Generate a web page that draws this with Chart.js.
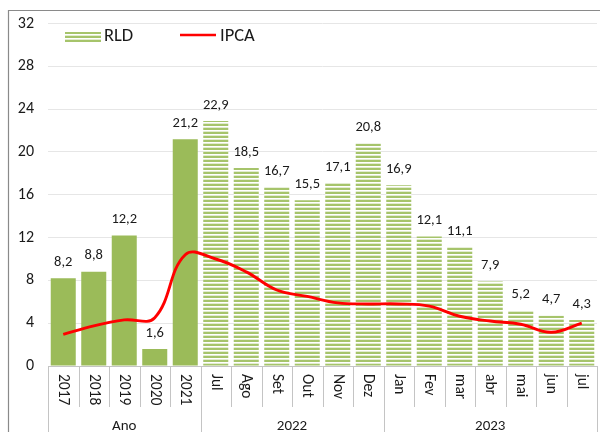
<!DOCTYPE html>
<html><head><meta charset="utf-8">
<script src="https://cdn.jsdelivr.net/npm/chart.js@4/dist/chart.umd.min.js"></script>
<style>html,body{margin:0;padding:0;background:#fff}#c{display:block}</style>
</head><body>
<canvas id="c" width="600" height="432"></canvas>
<script>
const categories = ['2017','2018','2019','2020','2021','Jul','Ago','Set','Out','Nov','Dez','Jan','Fev','mar','abr','mai','jun','jul'];
const rldValues = [8.2, 8.8, 12.2, 1.6, 21.2, 22.9, 18.5, 16.7, 15.5, 17.1, 20.8, 16.9, 12.1, 11.1, 7.9, 5.2, 4.7, 4.3];
const ipcaValues = [2.95, 3.75, 4.31, 4.52, 10.4, 10.0, 8.8, 7.1, 6.5, 5.9, 5.8, 5.8, 5.6, 4.65, 4.2, 3.9, 3.15, 4.0];
const yTicks = [0, 4, 8, 12, 16, 20, 24, 28, 32];
const groupLabels = ['Ano', '2022', '2023'];
const groupSizes = [5, 6, 7];
const solidCount = 5;

const FONT = 'Carlito, Lato, "Liberation Sans", sans-serif';
const GREEN = '#9bbb59';

function makeStripe() {
  const c = document.createElement('canvas');
  c.width = 4; c.height = 4;
  const g = c.getContext('2d');
  g.fillStyle = '#ffffff'; g.fillRect(0,0,4,4);
  g.fillStyle = '#a6c46b'; g.fillRect(0,0,4,2);
  g.fillStyle = '#e2ecd0'; g.fillRect(0,3,4,1);
  return g.createPattern(c, 'repeat');
}
const ctx0 = document.getElementById('c').getContext('2d');
const stripe = makeStripe();
const barColors = rldValues.map((v,i) => i < solidCount ? GREEN : stripe);

const fmt = v => v.toFixed(1).replace('.', ',');

const decor = {
  id: 'decor',
  beforeDraw(chart) {
    const c = chart.ctx;
    c.save();
    c.fillStyle = '#fff'; c.fillRect(0,0,chart.width,chart.height);
    c.strokeStyle = '#8a8a8a'; c.lineWidth = 1.2;
    c.beginPath();
    c.moveTo(8.5, 432); c.lineTo(8.5, 10.5); c.lineTo(600, 10.5);
    c.stroke();
    c.restore();
  },
  afterDatasetsDraw(chart) {
    const c = chart.ctx;
    const xs = chart.scales.x, area = chart.chartArea;
    c.save();
    const meta = chart.getDatasetMeta(0);
    c.fillStyle = '#1a1a1a';
    c.font = '14.5px ' + FONT;
    c.textAlign = 'center'; c.textBaseline = 'middle';
    meta.data.forEach((el, i) => {
      c.fillText(fmt(rldValues[i]), el.x, el.y - 16);
    });
    const y0 = area.bottom;
    c.strokeStyle = '#c4c4c4'; c.lineWidth = 1;
    c.beginPath(); c.moveTo(area.left, Math.round(y0)+0.5); c.lineTo(area.right, Math.round(y0)+0.5); c.stroke();
    const step = (area.right - area.left) / categories.length;
    const groupEdges = [0];
    groupSizes.reduce((a, s) => { groupEdges.push(a + s); return a + s; }, 0);
    for (let i = 0; i <= categories.length; i++) {
      const x = Math.round(area.left + i * step) + 0.5;
      const isGroup = groupEdges.includes(i);
      c.beginPath(); c.moveTo(x, y0); c.lineTo(x, isGroup ? 432 : 407); c.stroke();
    }
    c.fillStyle = '#1a1a1a';
    c.font = '15.5px ' + FONT;
    c.textAlign = 'left'; c.textBaseline = 'middle';
    categories.forEach((lab, i) => {
      const x = xs.getPixelForValue(i);
      c.save();
      c.translate(x, y0 + 8);
      c.rotate(Math.PI / 2);
      c.fillText(lab, 0, 0);
      c.restore();
    });
    c.textAlign = 'center';
    c.font = '15px ' + FONT;
    groupLabels.forEach((g, k) => {
      const xa = area.left + groupEdges[k] * step, xb = area.left + groupEdges[k+1] * step;
      c.fillText(g, (xa + xb) / 2, 426);
    });
    c.fillStyle = stripe;
    c.fillRect(65, 32, 36, 10);
    c.fillStyle = '#1a1a1a';
    c.font = '18.5px ' + FONT;
    c.textAlign = 'left';
    c.fillText('RLD', 104, 36);
    c.strokeStyle = '#ff0000'; c.lineWidth = 2.5;
    c.beginPath(); c.moveTo(180, 35); c.lineTo(216, 35); c.stroke();
    c.fillText('IPCA', 220, 36);
    c.restore();
  }
};

new Chart(ctx0, {
  data: {
    labels: categories,
    datasets: [
      { type: 'bar', label: 'RLD', data: rldValues, backgroundColor: barColors, borderWidth: 0,
        barPercentage: 0.82, categoryPercentage: 1, order: 2 },
      { type: 'line', label: 'IPCA', data: ipcaValues, borderColor: '#ff0000', borderWidth: 2.9,
        pointRadius: 0, tension: 0.4, fill: false, order: 1 }
    ]
  },
  options: {
    responsive: false,
    animation: false,
    layout: { padding: { left: 8, right: 3, top: 21, bottom: 66 } },
    plugins: { legend: { display: false }, tooltip: { enabled: false } },
    scales: {
      x: { display: false, offset: true },
      y: {
        min: 0, max: 32,
        afterBuildTicks(s) { s.ticks = yTicks.map(v => ({ value: v })); },
        afterFit(s) { s.width = 40; },
        border: { display: false },
        grid: { color: '#e6e6e6', drawTicks: false, lineWidth: 1 },
        ticks: { padding: 14, color: '#1a1a1a', font: { family: FONT, size: 16 } }
      }
    }
  },
  plugins: [decor]
});
</script>
</body></html>
